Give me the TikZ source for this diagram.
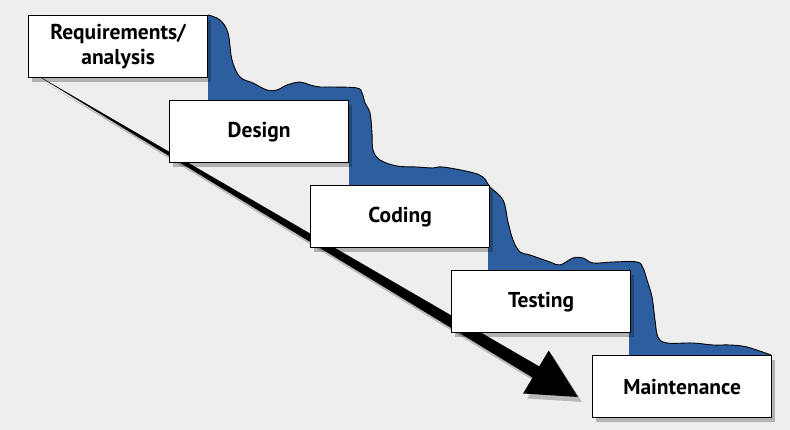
\documentclass[tikz,border=0pt]{standalone}
\usepackage{fontspec}
\setmainfont{PT Sans}
\usetikzlibrary{shadows}
\definecolor{bg}{RGB}{238,238,238}
\definecolor{water}{RGB}{45,95,160}
\begin{document}
\begin{tikzpicture}[x=1pt,y=-1pt,
  phase/.style={draw=black,line width=1.3pt,fill=white,minimum width=179pt,
    minimum height=62pt,inner sep=0pt,anchor=north west,align=center,
    font=\fontsize{21.5}{25}\selectfont\bfseries,
    drop shadow={shadow xshift=3pt,shadow yshift=-4pt,opacity=0.25,fill=black}},
  shore/.style={draw=black,line width=0.9pt,line join=round}]
\useasboundingbox (0,0) rectangle (790,430);
\fill[bg] (0,0) rectangle (790,430);
% water
\fill[water] plot[smooth,tension=0.6] coordinates {(208,15) (220,20) (228,33) (232,60) (240,77) (253,83) (267,90) (277,90) (287,85) (300,82) (310,85) (320,87) (333,87) (357,88) (362,93) (365,103) (370,113) (372,133) (373,150) (380,160) (397,166) (417,167) (433,168) (443,167) (470,172) (483,177) (490,187) (503,200) (508,222) (513,240) (520,252) (530,255) (550,262) (560,265) (573,258) (583,258) (593,263) (613,262) (637,262) (643,268) (647,280) (652,297) (655,320) (658,337) (667,343) (693,343) (713,345) (730,345) (747,347) (771,355)}
  -- (629,355) -- (629,270) -- (488,270) -- (488,185) -- (349,185) -- (349,100) -- (208,100) -- cycle;
\draw[shore] plot[smooth,tension=0.6] coordinates {(208,15) (220,20) (228,33) (232,60) (240,77) (253,83) (267,90) (277,90) (287,85) (300,82) (310,85) (320,87) (333,87) (357,88) (362,93) (365,103) (370,113) (372,133) (373,150) (380,160) (397,166) (417,167) (433,168) (443,167) (470,172) (483,177) (490,187) (503,200) (508,222) (513,240) (520,252) (530,255) (550,262) (560,265) (573,258) (583,258) (593,263) (613,262) (637,262) (643,268) (647,280) (652,297) (655,320) (658,337) (667,343) (693,343) (713,345) (730,345) (747,347) (771,355)};
% arrow
\coordinate (astart) at (40,77);
\coordinate (atip) at (578,397);
\fill[black,opacity=0.22] ([shift={(4,5)}]astart) -- (543.2,371.4) -- (552.7,355.5) -- ([shift={(4,5)}]atip) -- (527.1,398.5) -- (536.6,382.6) -- cycle;
\fill[black] (39.7,76.6) -- (539.2,366.4) -- (548.7,350.5) -- (atip) -- (523.1,393.5) -- (532.6,377.6) -- (40.3,77.4) -- cycle;
% phases
\node[phase] (req) at (28,15) {Requirements/\\analysis};
\node[phase] (des) at (169,100) {Design};
\node[phase] (cod) at (310,185) {Coding};
\node[phase] (tes) at (451,270) {Testing};
\node[phase] (mai) at (592,355) {Maintenance};
\end{tikzpicture}
\end{document}
